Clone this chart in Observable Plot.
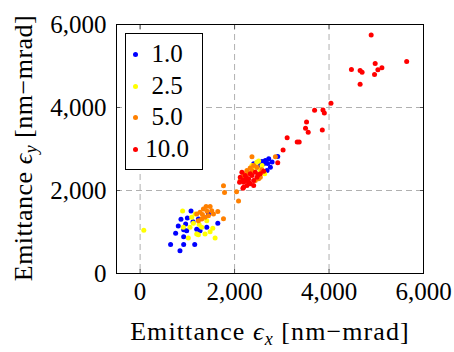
<!DOCTYPE html>
<html><head><meta charset="utf-8">
<script src="https://cdn.jsdelivr.net/npm/d3@7"></script>
<script src="https://cdn.jsdelivr.net/npm/@observablehq/plot@0.6"></script>
<style>
body{margin:0;background:#fff;}
#wrap{position:relative;width:454px;height:352px;font-family:"Liberation Serif",serif;}
#legend{position:absolute;left:125px;top:33px;width:78px;height:137px;border:1px solid #000;background:#fff;box-sizing:border-box;}
.row{position:absolute;left:0;width:76px;height:30px;}
.row .dot{position:absolute;left:7px;top:13px;width:5px;height:5px;border-radius:50%;}
.row .lab{position:absolute;left:18px;width:46px;text-align:center;font-size:25px;line-height:30px;top:0;}
</style></head>
<body><div id="wrap"><div id="chart"></div><div id="legend"></div></div>
<script>
const series = ["1.0", "2.5", "5.0", "10.0"];
const colors = ["#0000ff", "#ffff00", "#ff8000", "#ff0000"];
const xTicks = [0, 2000, 4000, 6000];
const yTicks = [0, 2000, 4000, 6000];

const blueX = [645, 844, 922, 1156, 752, 808, 865, 922, 922, 964, 1000, 1078, 1198, 1269, 1411, 1645, 1446, 1234, 986, 1120, 2914, 2723, 2652, 2616, 2758, 2687, 2545, 2404, 2794, 2580, 2700, 2470];
const blueY = [701, 548, 701, 701, 967, 1145, 1306, 1056, 887, 1193, 1338, 1507, 1064, 1032, 1112, 1209, 1435, 1314, 1032, 1250, 2821, 2765, 2724, 2644, 2563, 2482, 2603, 2644, 2684, 2700, 2650, 2560];
const yellowX = [78, 900, 915, 1021, 1092, 1127, 1198, 1234, 1375, 1482, 1539, 1588, 1305, 1163, 1411, 1056, 1250, 2510, 2581, 2638, 2439, 2368, 2470, 2540];
const yellowY = [1040, 1507, 1112, 854, 1354, 1209, 951, 935, 951, 1008, 1088, 854, 1112, 1435, 1273, 1112, 1180, 2708, 2603, 2402, 2563, 2603, 2680, 2500];
const orangeX = [1198, 1269, 1340, 1397, 1482, 1517, 1446, 1375, 1305, 1234, 1645, 1765, 1553, 1319, 1418, 1765, 1787, 2042, 2084, 2368, 2864, 2262, 2297, 2191, 2368, 2474, 2545, 2439, 2510, 2120, 2404, 2580, 2330, 2200];
const orangeY = [1435, 1475, 1556, 1612, 1612, 1515, 1394, 1354, 1314, 1273, 1491, 1322, 1435, 1419, 1499, 2112, 1951, 1967, 1749, 2813, 2813, 2482, 2402, 2402, 2482, 2563, 2321, 2241, 2281, 2241, 2603, 2500, 2540, 2330];
const redX = [4892, 5644, 4474, 4658, 4700, 4977, 5034, 5119, 4963, 4658, 4041, 3694, 3871, 3900, 3524, 3502, 3559, 3857, 3113, 3326, 3368, 3027, 2914, 2120, 2191, 2262, 2333, 2404, 2474, 2545, 2616, 2155, 2226, 2297, 2368, 2439, 2262, 2191, 2106, 2404, 2333, 2250, 2180, 2300, 2177, 2500];
const redY = [5747, 5110, 4917, 4892, 4852, 5062, 4909, 4957, 4796, 4562, 4103, 3933, 3941, 3869, 3651, 3498, 3401, 3458, 3272, 3168, 3168, 2974, 2668, 2321, 2200, 2120, 2160, 2241, 2321, 2402, 2466, 2442, 2362, 2281, 2362, 2442, 2241, 2080, 2200, 2120, 2402, 2300, 2250, 2200, 2055, 2380];

const xs = [blueX, yellowX, orangeX, redX];
const ys = [blueY, yellowY, orangeY, redY];
const data = [];
series.forEach((s, i) => xs[i].forEach((x, j) => data.push({s, x, y: ys[i][j]})));

const fmt = d3.format(",");
const chart = Plot.plot({
  width: 454, height: 352,
  marginLeft: 116, marginRight: 31, marginTop: 24, marginBottom: 79,
  style: {fontFamily: "Liberation Serif, serif", background: "#fff"},
  x: {domain: [-500, 6000]},
  y: {domain: [0, 6000]},
  color: {domain: series, range: colors},
  marks: [
    Plot.gridX([0, 2000, 4000], {stroke: "#b0b0b0", strokeOpacity: 1, strokeDasharray: "6,4"}),
    Plot.gridY([2000, 4000], {stroke: "#b0b0b0", strokeOpacity: 1, strokeDasharray: "6,4"}),
    Plot.axisX(xTicks, {tickSize: -4, stroke: "#555", tickFormat: () => "", label: null}),
    Plot.axisX(xTicks, {anchor: "top", tickSize: -4, stroke: "#555", tickFormat: () => "", label: null}),
    Plot.axisY(yTicks, {tickSize: -4, stroke: "#555", tickFormat: () => "", label: null}),
    Plot.axisY(yTicks, {anchor: "right", tickSize: -4, stroke: "#555", tickFormat: () => "", label: null}),
    Plot.axisX(xTicks, {tickSize: 0, tickPadding: 9, tickFormat: fmt, fontSize: 25, fill: "#000", label: null}),
    Plot.axisY(yTicks, {tickSize: 0, tickPadding: 10, tickFormat: fmt, fontSize: 25, fill: "#000", label: null}),
    Plot.dot(data, {x: "x", y: "y", fill: "s", r: 2.5, stroke: "none"}),
    Plot.frame({stroke: "#000", strokeWidth: 1})
  ]
});
document.getElementById("chart").append(chart);

// axis titles with subscripts
const svg = d3.select(chart);
const tx = svg.append("text").attr("x", 270).attr("y", 340).attr("text-anchor", "middle")
  .style("font-size", "26px").style("letter-spacing", "1.1px").style("font-family", "Liberation Serif, serif").attr("fill", "#000");
tx.append("tspan").text("Emittance ");
tx.append("tspan").style("font-style", "italic").text("ϵ");
tx.append("tspan").style("font-style", "italic").style("font-size", "18px").attr("dy", 5).text("x");
tx.append("tspan").attr("dy", -5).text(" [nm−mrad]");
const ty = svg.append("text").attr("transform", "translate(32,148) rotate(-90)").attr("text-anchor", "middle")
  .style("font-size", "26px").style("letter-spacing", "0.5px").style("font-family", "Liberation Serif, serif").attr("fill", "#000");
ty.append("tspan").text("Emittance ");
ty.append("tspan").style("font-style", "italic").text("ϵ");
ty.append("tspan").style("font-style", "italic").style("font-size", "18px").attr("dy", 5).text("y");
ty.append("tspan").attr("dy", -5).text(" [nm−mrad]");

// legend
const leg = document.getElementById("legend");
series.forEach((s, i) => {
  const row = document.createElement("div");
  row.className = "row";
  row.style.top = (5 + i * 31.7) + "px";
  row.innerHTML = `<div class="dot" style="background:${colors[i]}"></div><div class="lab">${s}</div>`;
  leg.append(row);
});
</script></body></html>
